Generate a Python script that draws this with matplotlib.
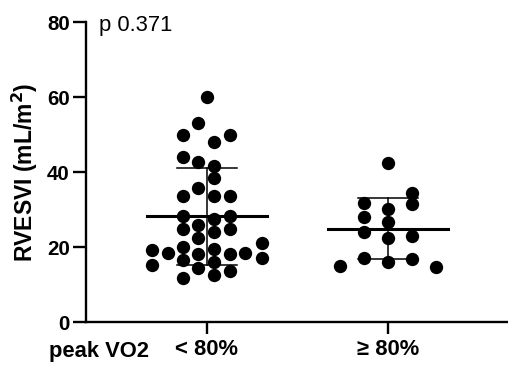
import numpy as np
import matplotlib
matplotlib.use("Agg")
import matplotlib.pyplot as plt

plt.rcParams['font.family'] = ['Liberation Sans', 'DejaVu Sans']

groups = ['< 80%', '\u2265 80%']

# values (mL/m2) with their horizontal jitter (category units)
low_vals = [60, 53.1, 50, 50, 47.9, 44.1, 42.6, 41.7, 38.3, 35.8, 33.6, 33.6, 33.6,
            28.3, 27.4, 28.3, 24.7, 25.9, 23.9, 24.7, 22.3, 21.0, 19.2, 18.3, 20.1,
            18.1, 19.6, 18.1, 18.3, 17.0, 16.5, 16.1, 15.2, 14.3, 13.7, 12.5, 11.8]
low_jit = [0.0, -0.048, -0.131, 0.127, 0.040, -0.131, -0.048, 0.040, 0.040, -0.048,
           -0.131, 0.040, 0.127,
           -0.131, 0.040, 0.127, -0.131, -0.048, 0.040, 0.127, -0.048, 0.302, -0.305,
           -0.216, -0.131, -0.048, 0.040, 0.127, 0.210, 0.302, -0.131, 0.040, -0.305,
           -0.048, 0.127, 0.040, -0.131]

high_vals = [42.5, 34.5, 31.4, 31.8, 30.1, 27.9, 26.8, 23.9, 22.3, 22.9,
             17.2, 16.1, 16.7, 14.9, 14.6]
high_jit = [0.0, 0.133, 0.133, -0.133, 0.0, -0.133, 0.0, -0.133, 0.0, 0.133,
            -0.133, 0.0, 0.133, -0.265, 0.265]

means = [28.2, 24.9]
sds = [13.0, 8.1]
p_text = 'p 0.371'

fig = plt.figure(figsize=(5.08, 3.67), dpi=100)
ax = fig.add_axes([0.169, 0.1226, 0.831, 0.8174])

ax.scatter(1 + np.array(low_jit), low_vals, s=92, color='black', zorder=2, linewidths=0)
ax.scatter(2 + np.array(high_jit), high_vals, s=92, color='black', zorder=2, linewidths=0)

# mean line with SD whiskers
for i, (m, sd) in enumerate(zip(means, sds)):
    x = i + 1
    ax.plot([x - 0.331, x + 0.331], [m, m], color='black', lw=2.2, zorder=3)
    ax.plot([x, x], [m - sd, m + sd], color='black', lw=1.1, zorder=3)
    ax.plot([x - 0.166, x + 0.166], [m + sd, m + sd], color='black', lw=1.1, zorder=3)
    ax.plot([x - 0.166, x + 0.166], [m - sd, m - sd], color='black', lw=1.1, zorder=3)

ax.set_xlim(0.331, 2.663)
ax.set_ylim(0, 80)
ax.set_yticks([0, 20, 40, 60, 80])
ax.set_xticks([1, 2])
ax.set_xticklabels(groups, fontsize=15.8, fontweight='bold')
for lab in ax.get_yticklabels():
    lab.set_fontsize(14.8)
    lab.set_fontweight('bold')
ax.tick_params(axis='y', length=9.5, width=1.7, pad=2)
ax.tick_params(axis='x', length=8.5, width=1.7, pad=4)

ax.spines['top'].set_visible(False)
ax.spines['right'].set_visible(False)
ax.spines['left'].set_linewidth(1.7)
ax.spines['bottom'].set_linewidth(1.7)

ax.set_ylabel('RVESVI (mL/m$^\\mathbf{2}$)', fontsize=16.5, fontweight='bold', labelpad=5)

fig.text(0.097, 10 / 367, 'peak VO2', fontsize=15.8, fontweight='bold', va='baseline')
fig.text(0.195, 0.9155, p_text, fontsize=15.8, va='baseline')

plt.savefig('out.png', dpi=100)
